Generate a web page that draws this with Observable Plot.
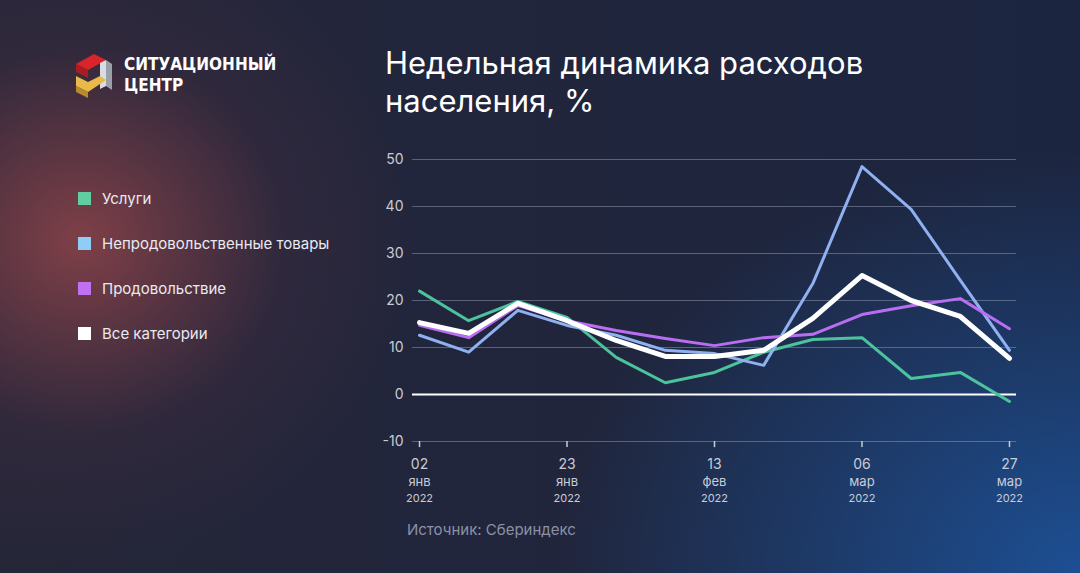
<!DOCTYPE html>
<html><head><meta charset="utf-8">
<script src="https://cdn.jsdelivr.net/npm/d3@7"></script>
<script src="https://cdn.jsdelivr.net/npm/@observablehq/plot@0.6"></script>
<style>
body{margin:0;width:1080px;height:573px;overflow:hidden;font-family:Inter,Roboto,sans-serif;color:#fff;
background:radial-gradient(ellipse 340px 320px at 80px 240px,rgba(150,70,75,0.8),rgba(70,45,65,0.35) 60%,rgba(0,0,0,0) 100%),
radial-gradient(ellipse 520px 420px at 1080px 573px,#1d4f93,rgba(29,79,147,0) 100%),linear-gradient(90deg,#252638,#1c2540);position:relative}
.abs{position:absolute}
.leg{left:78px;font-size:15px;color:#e8eaf0;display:flex;align-items:center}
.leg span{display:inline-block;width:13px;height:13px;margin-right:11px}
</style></head><body>
<svg class="abs" style="left:72px;top:50px" width="50" height="50" viewBox="0 0 50 50">
<polygon points="4,14 22,4 34,10 16,20" fill="#d8242a"/><polygon points="4,14 16,20 16,28 4,22" fill="#a81c22"/>
<polygon points="34,10 40,14 40,40 34,36" fill="#9aa0aa"/><polygon points="28,13 34,10 34,36 28,39" fill="#d9dce2"/>
<polygon points="4,26 16,32 28,26 34,30 16,42 4,36" fill="#e9b949"/><polygon points="4,36 16,42 16,48 4,42" fill="#b88a2a"/>
</svg>
<div class="abs" style="left:124px;top:54px;font-family:'DejaVu Sans Condensed','Liberation Sans Narrow',sans-serif;font-size:17px;font-weight:700;line-height:21px">СИТУАЦИОННЫЙ<br>ЦЕНТР</div>
<div class="abs" style="left:385px;top:44px;font-size:31px;line-height:38px;font-weight:400">Недельная динамика расходов<br>населения, %</div>
<div class="abs leg" style="top:189px"><span style="background:#5fcfa2"></span>Услуги</div>
<div class="abs leg" style="top:234px"><span style="background:#8ecdf5"></span>Непродовольственные товары</div>
<div class="abs leg" style="top:279px"><span style="background:#c070f0"></span>Продовольствие</div>
<div class="abs leg" style="top:324px"><span style="background:#ffffff"></span>Все категории</div>
<div class="abs" style="left:407px;top:520px;font-size:15px;color:#8a92a6">Источник: Сбериндекс</div>
<div id="chart" class="abs" style="left:370px;top:140px"></div>
<script>
const weeks=["2022-01-02","2022-01-09","2022-01-16","2022-01-23","2022-01-30","2022-02-06","2022-02-13","2022-02-20","2022-02-27","2022-03-06","2022-03-13","2022-03-20","2022-03-27"];
const services=[22,15.7,19.8,16.4,7.9,2.5,4.7,9,11.7,12.1,3.4,4.7,-1.5];
const nonfood=[12.6,9,17.9,14.7,12.6,9.4,8.7,6.2,23.6,48.5,39.4,24.3,9.4];
const food=[14.7,12.1,18.9,15.7,13.6,11.9,10.4,12.1,12.8,17,18.9,20.4,14];
const all=[15.3,13,19.4,15.7,11.5,8.1,8.1,9.4,16.2,25.3,20,16.6,7.7];
const tickDays=["02","23","13","06","27"];
const tickMonths=["янв","янв","фев","мар","мар"];
const tickYear="2022";
const tickDates=["2022-01-02","2022-01-23","2022-02-13","2022-03-06","2022-03-27"].map(d=>new Date(d));
const dates=weeks.map(d=>new Date(d));
const mk=(v,name)=>v.map((y,i)=>({date:dates[i],y,name}));
const ticks=tickDates.map((d,i)=>({d,day:tickDays[i],mon:tickMonths[i]}));
const chart=Plot.plot({
  width:680,height:380,marginLeft:42,marginRight:34,marginTop:19,marginBottom:79,
  style:{background:"transparent",color:"#c8ccd6",fontFamily:"Inter,Roboto,sans-serif"},
  x:{type:"utc",domain:[new Date("2022-01-01"),new Date("2022-03-28")],axis:null},
  y:{domain:[-10,50],axis:null},
  marks:[
    Plot.ruleY([-10,10,20,30,40,50],{stroke:"#8a93a8",strokeOpacity:0.55}),
    Plot.text([-10,0,10,20,30,40,50],{x:()=>new Date("2022-01-01"),y:d=>d,text:d=>String(d),textAnchor:"end",dx:-9,fontSize:14,fill:"#c8ccd6"}),
    Plot.ruleX(ticks,{x:"d",y1:-10,y2:-11.3,stroke:"#c8ccd6",strokeWidth:1.5}),
    Plot.text(ticks,{x:"d",y:-10,text:"day",dy:23,fontSize:14,fill:"#c8ccd6"}),
    Plot.text(ticks,{x:"d",y:-10,text:"mon",dy:40,fontSize:13,fill:"#c8ccd6"}),
    Plot.text(ticks,{x:"d",y:-10,text:()=>tickYear,dy:57,fontSize:11,fill:"#c8ccd6"}),
    Plot.ruleY([0],{stroke:"#fff",strokeWidth:2}),
    Plot.line(mk(services,"s"),{x:"date",y:"y",stroke:"#4cc39c",strokeWidth:3}),
    Plot.line(mk(nonfood,"n"),{x:"date",y:"y",stroke:"#8fb1f2",strokeWidth:3}),
    Plot.line(mk(food,"f"),{x:"date",y:"y",stroke:"#b96ef2",strokeWidth:3}),
    Plot.line(mk(all,"a"),{x:"date",y:"y",stroke:"#ffffff",strokeWidth:5})
  ]
});
document.getElementById("chart").append(chart);
</script>
</body></html>
